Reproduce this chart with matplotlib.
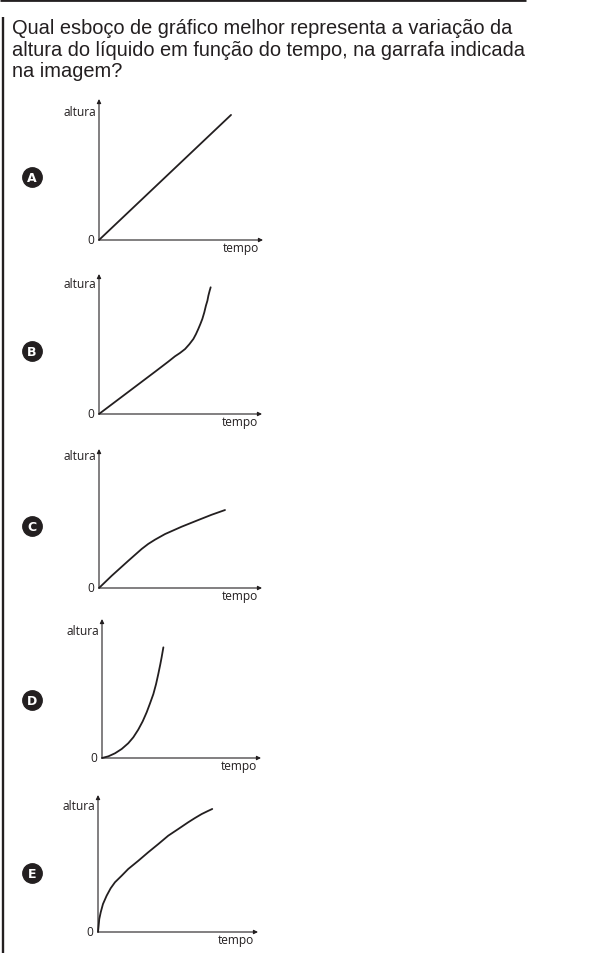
import matplotlib
matplotlib.use("Agg")
import matplotlib.pyplot as plt

# ---------------- data ----------------
question_lines = [
    "Qual esboço de gráfico melhor representa a variação da",
    "altura do líquido em função do tempo, na garrafa indicada",
    "na imagem?",
]
option_letters = ["A", "B", "C", "D", "E"]
y_label = "altura"
x_label = "tempo"
origin_label = "0"

tempo_A = [0, 8.05]
altura_A = [0, 8.87]

tempo_B = [0, 1.80, 3.44, 4.25, 4.66, 4.97, 5.28, 5.54, 5.79, 5.95, 6.09,
           6.22, 6.34, 6.46, 6.56, 6.65, 6.71, 6.79, 6.85]
altura_B = [0, 1.58, 3.02, 3.74, 4.12, 4.36, 4.64, 4.98, 5.36, 5.71, 6.07,
            6.43, 6.79, 7.26, 7.74, 8.09, 8.45, 8.81, 9.05]

tempo_C = [0, 0.78, 1.80, 2.62, 3.02, 3.44, 4.05, 5.07, 6.09, 6.91, 7.73]
altura_C = [0, 0.88, 1.96, 2.81, 3.17, 3.48, 3.88, 4.41, 4.89, 5.27, 5.61]

tempo_D = [0, 0.40, 0.82, 1.24, 1.65, 1.97, 2.28, 2.56, 2.81, 3.02, 3.23,
           3.40, 3.54, 3.67, 3.75, 3.86]
altura_D = [0, 0.12, 0.34, 0.65, 1.06, 1.49, 2.04, 2.64, 3.29, 3.93, 4.60,
            5.32, 6.04, 6.76, 7.24, 7.96]

tempo_E = [0, 0.04, 0.08, 0.17, 0.31, 0.54, 0.79, 1.06, 1.48, 1.89, 2.52,
           3.14, 3.77, 4.39, 5.02, 5.64, 6.06, 6.48, 6.83, 7.14]
altura_E = [0, 0.46, 0.95, 1.44, 2.04, 2.65, 3.19, 3.63, 4.11, 4.60, 5.20,
            5.82, 6.42, 7.03, 7.52, 8.01, 8.32, 8.61, 8.81, 8.98]

series = [(tempo_A, altura_A), (tempo_B, altura_B), (tempo_C, altura_C),
          (tempo_D, altura_D), (tempo_E, altura_E)]

# ---------------- layout (pixels) ----------------
W, H = 591, 954
# (origin x, origin y, arrow end x, arrow top y)
frames = [(99, 241, 263, 100), (99, 415, 262, 275), (99, 589, 262, 450),
          (102, 759, 261, 620), (98, 933, 258, 796)]
ylabel_y = [112.5, 284.5, 457, 632, 806.5]
badge_y = [178, 352, 527, 701, 874]

INK = "#231f20"
fig = plt.figure(figsize=(W / 100, H / 100), dpi=100)
ov = fig.add_axes([0, 0, 1, 1])
ov.set_xlim(0, W)
ov.set_ylim(H, 0)
ov.axis("off")

# frame lines
ov.plot([0, 526], [1.4, 1.4], color=INK, lw=2.0, solid_capstyle="butt")
ov.plot([3, 3], [18, H], color=INK, lw=1.7, solid_capstyle="butt")

# question text
qfont = dict(family=["Liberation Sans", "DejaVu Sans"], fontsize=14.4, color=INK)
for i, line in enumerate(question_lines):
    ov.text(12.5, 34 + 21.5 * i, line, ha="left", va="baseline", **qfont)

lfont = dict(family=["Open Sans", "DejaVu Sans"], fontsize=8.6, color=INK)

for k, ((t, h), (x0, y0, xe, yt)) in enumerate(zip(series, frames)):
    ax = fig.add_axes([x0 / W, (H - y0) / H, (xe - x0) / W, (y0 - yt) / H])
    ax.set_xlim(0, 10)
    ax.set_ylim(0, 10)
    ax.axis("off")
    ax.patch.set_alpha(0)
    arrow = dict(arrowstyle="-|>", lw=0.8, color=INK, mutation_scale=6,
                 shrinkA=0, shrinkB=0)
    ax.annotate("", xy=(1, 0), xytext=(0, 0), xycoords="axes fraction",
                arrowprops=arrow, annotation_clip=False)
    ax.annotate("", xy=(0, 1), xytext=(0, 0), xycoords="axes fraction",
                arrowprops=arrow, annotation_clip=False)
    ax.plot(t, h, color=INK, lw=1.3, clip_on=False,
            solid_joinstyle="round", solid_capstyle="round")

    # labels
    ov.text(x0 - 2.5, ylabel_y[k], y_label, ha="right", va="center", **lfont)
    ov.text(x0 - 5, y0, origin_label, ha="right", va="center", **lfont)
    ov.text(xe - 4, y0 + 7.5, x_label, ha="right", va="center", **lfont)

    # badge
    ov.scatter([32], [badge_y[k]], s=195, color=INK, zorder=5)
    ov.text(32, badge_y[k] + 0.5, option_letters[k], ha="center", va="center",
            color="white", fontsize=9, fontweight="bold",
            family=["DejaVu Sans"], zorder=6)

fig.savefig("out.png", dpi=100)
